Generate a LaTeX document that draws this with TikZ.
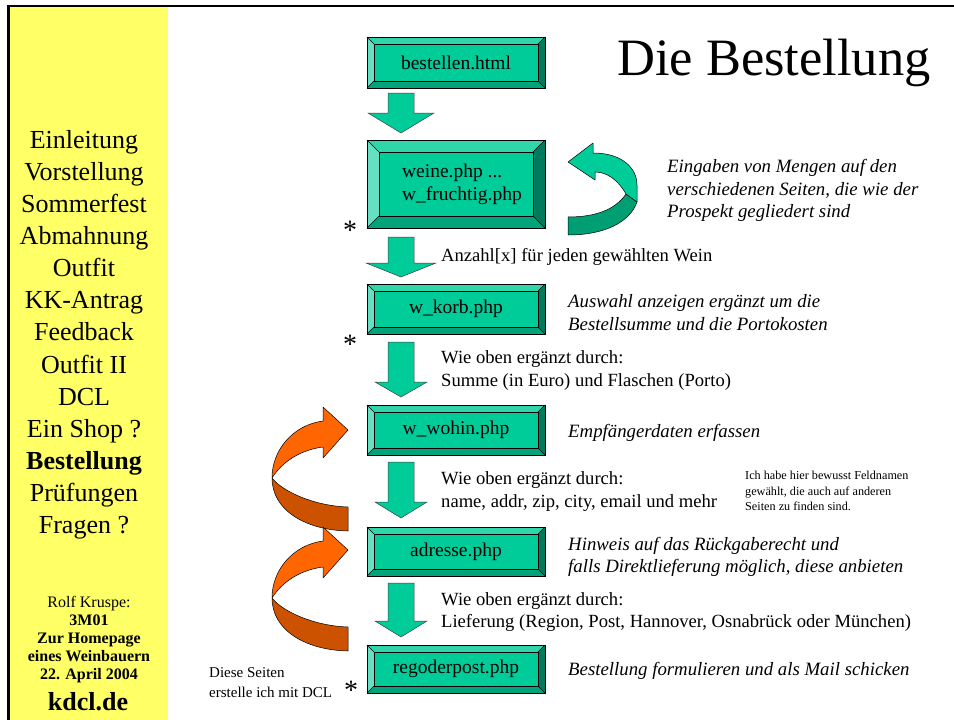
\documentclass[tikz,border=0pt]{standalone}
\usepackage{fontspec}
\setmainfont{Liberation Serif}
\usetikzlibrary{calc}
\definecolor{sideyellow}{HTML}{FFFF66}
\definecolor{boxface}{HTML}{00CC99}
\definecolor{bvtopc}{HTML}{2ED6A9}
\definecolor{bvleftc}{HTML}{66E0C2}
\definecolor{bvrightc}{HTML}{007A5C}
\definecolor{bvbottomc}{HTML}{00A37A}
\definecolor{arrgreen}{HTML}{00CC99}
\definecolor{arrgreendark}{HTML}{009E73}
\definecolor{orlight}{HTML}{FF6600}
\definecolor{ordark}{HTML}{CC5200}
\newcommand\bevel[2]{%
 \fill[bvtopc] (#1.north west) -- (#1.north east) -- ($(#1.north east)+(-#2,#2)$) -- ($(#1.north west)+(#2,#2)$) -- cycle;
 \fill[bvrightc] (#1.north east) -- (#1.south east) -- ($(#1.south east)+(-#2,-#2)$) -- ($(#1.north east)+(-#2,#2)$) -- cycle;
 \fill[bvbottomc] (#1.south east) -- (#1.south west) -- ($(#1.south west)+(#2,-#2)$) -- ($(#1.south east)+(-#2,-#2)$) -- cycle;
 \fill[bvleftc] (#1.south west) -- (#1.north west) -- ($(#1.north west)+(#2,#2)$) -- ($(#1.south west)+(#2,-#2)$) -- cycle;
 \draw[line width=0.9pt] (#1.north west) rectangle (#1.south east);
 \draw[line width=0.6pt] ($(#1.north west)+(#2,#2)$) rectangle ($(#1.south east)+(-#2,-#2)$);
 \draw[line width=0.4pt] (#1.north west) -- ++(#2,#2) (#1.north east) -- ++(-#2,#2) (#1.south east) -- ++(-#2,-#2) (#1.south west) -- ++(#2,-#2);
}
% top, head start, tip, head half width
\newcommand\downblock[4]{%
 \draw[blockarrow] (388,#1) -- (414,#1) -- (414,#2) -- ({401+#4},#2) -- (401,#3) -- ({401-#4},#2) -- (388,#2) -- cycle;
}
\begin{document}
\begin{tikzpicture}[x=1pt,y=-1pt,
  boxnode/.style={fill=boxface, minimum width=178pt, inner sep=0pt, outer sep=0pt, font=\fontsize{19.5}{23}\selectfont},
  blockarrow/.style={fill=arrgreen, draw=black!75, line width=0.5pt, line join=miter},
  menu/.style={anchor=base, inner sep=0pt, font=\fontsize{26}{32}\selectfont},
  sidesmall/.style={anchor=base, inner sep=0pt, font=\fontsize{16}{18}\selectfont},
  sidebold/.style={anchor=base, inner sep=0pt, font=\fontsize{16}{18}\selectfont\bfseries},
  plain/.style={anchor=base west, inner sep=0pt, font=\fontsize{18.6}{22.5}\selectfont},
  note/.style={anchor=base west, inner sep=0pt, font=\fontsize{18.8}{22.5}\selectfont\itshape},
  smallnote/.style={anchor=base west, inner sep=0pt, font=\fontsize{12.2}{15}\selectfont},
  star/.style={anchor=base, inner sep=0pt, font=\fontsize{28}{28}\selectfont},
  ribbon/.style={draw=black, line width=0.5pt, line join=round}]
\useasboundingbox (0,0) rectangle (954,720);
\fill[white] (0,0) rectangle (954,720);
% sidebar and frame
\fill[sideyellow] (10,7) rectangle (168,720);
\draw[line width=2.6pt] (8.6,720) -- (8.6,6) -- (954,6);

% sidebar menu
\foreach \t [count=\i] in {Einleitung,Vorstellung,Sommerfest,Abmahnung,Outfit,KK-Antrag,Feedback,Outfit II,DCL,Ein Shop ?,{\textbf{Bestellung}},Prüfungen,Fragen ?}
  \node[menu] (m\i) at (84,{148+32.15*(\i-1)}) {\t};
\node[sidesmall] (s1) at (89,607.5) {Rolf Kruspe:};
\node[sidebold] (s2) at (89,625.5) {3M01};
\node[sidebold] (s3) at (89,643.5) {Zur Homepage};
\node[sidebold] (s4) at (89,661.5) {eines Weinbauern};
\node[sidebold] (s5) at (89,679.5) {22. April 2004};
\node[sidebold,font=\fontsize{26}{28}\selectfont\bfseries] (s6) at (88,710) {kdcl.de};

% title
\node[anchor=base west, inner sep=0pt, font=\fontsize{52.5}{56}\selectfont] (title) at (617,75) {Die Bestellung};

% boxes
\node[boxnode, minimum height=51pt] (b1) at (456,62.5) {bestellen.html};
\node[boxnode, minimum height=88pt, align=left] (b2) at (456,184) {\hspace*{12pt}weine.php ...\\\hspace*{12pt}w\_fruchtig.php};
\node[boxnode, minimum height=50pt] (b3) at (456,309) {w\_korb.php};
\node[boxnode, minimum height=50pt] (b4) at (456,430) {w\_wohin.php};
\node[boxnode, minimum height=49pt] (b5) at (456,551.5) {adresse.php};
\node[boxnode, minimum height=48pt] (b6) at (456,669) {regoderpost.php};
\bevel{b1}{7}
\bevel{b2}{12}
\bevel{b3}{7}
\bevel{b4}{7}
\bevel{b5}{7}
\bevel{b6}{7}

% straight block arrows
\downblock{93}{113}{133}{33}
\downblock{237}{263}{277}{35}
\downblock{342}{382}{397}{26}
\downblock{462}{502}{518}{26}
\downblock{583}{621}{637}{26}

% green ribbon arrow
\draw[ribbon, fill=arrgreendark] (568,217) .. controls (595,217) and (615,210) .. (626,194) -- (637,202) .. controls (630,222) and (605,235) .. (568,235) -- cycle;
\draw[ribbon, fill=arrgreen] (568,162) -- (593,143) -- (593,153) .. controls (622,153) and (637,168) .. (637,185) -- (637,202) -- (626,194) .. controls (618,180) and (607,172) .. (595,172) -- (595,180) -- cycle;

% orange ribbon arrows
\foreach \dy in {0,-120} {
 \begin{scope}[yshift=\dy pt]
 \draw[ribbon, fill=ordark] (272,478) .. controls (283,492) and (315,506) .. (348,507) -- (348,531) .. controls (305,530) and (272,510) .. (272,478) -- cycle;
 \draw[ribbon, fill=orlight] (348,430) -- (323,407) -- (323,421) .. controls (293,425) and (272,450) .. (272,478) .. controls (282,462) and (300,450) .. (323,447) -- (323,458) -- cycle;
 \end{scope}
}

% texts beside arrows
\node[plain] (t1) at (441,261) {Anzahl[x] für jeden gewählten Wein};
\node[plain] (t2a) at (441,363) {Wie oben ergänzt durch:};
\node[plain] (t2b) at (441,386) {Summe (in Euro) und Flaschen (Porto)};
\node[plain] (t3a) at (441,484) {Wie oben ergänzt durch:};
\node[plain] (t3b) at (441,507) {name, addr, zip, city, email und mehr};
\node[plain] (t4a) at (441,605) {Wie oben ergänzt durch:};
\node[plain] (t4b) at (441,627) {Lieferung (Region, Post, Hannover, Osnabrück oder München)};

% italic annotations
\node[note] (n1a) at (667,172) {Eingaben von Mengen auf den};
\node[note] (n1b) at (667,195) {verschiedenen Seiten, die wie der};
\node[note] (n1c) at (667,217) {Prospekt gegliedert sind};
\node[note] (n2a) at (568,307) {Auswahl anzeigen ergänzt um die};
\node[note] (n2b) at (568,330) {Bestellsumme und die Portokosten};
\node[note] (n3) at (568,437) {Empfängerdaten erfassen};
\node[note] (n4a) at (568,550) {Hinweis auf das Rückgaberecht und};
\node[note] (n4b) at (568,572) {falls Direktlieferung möglich, diese anbieten};
\node[note] (n5) at (568,675) {Bestellung formulieren und als Mail schicken};

% small note
\node[smallnote] (k1) at (745,479) {Ich habe hier bewusst Feldnamen};
\node[smallnote] (k2) at (745,495) {gewählt, die auch auf anderen};
\node[smallnote] (k3) at (745,510) {Seiten zu finden sind.};

% DCL note and stars
\node[anchor=base west, inner sep=0pt, font=\fontsize{15}{20}\selectfont] (d1) at (209,677) {Diese Seiten};
\node[anchor=base west, inner sep=0pt, font=\fontsize{15}{20}\selectfont] (d2) at (209,697) {erstelle ich mit DCL};
\node[star] (st1) at (350,239) {*};
\node[star] (st2) at (350,353) {*};
\node[star] (st3) at (351,699) {*};
\end{tikzpicture}
\end{document}
